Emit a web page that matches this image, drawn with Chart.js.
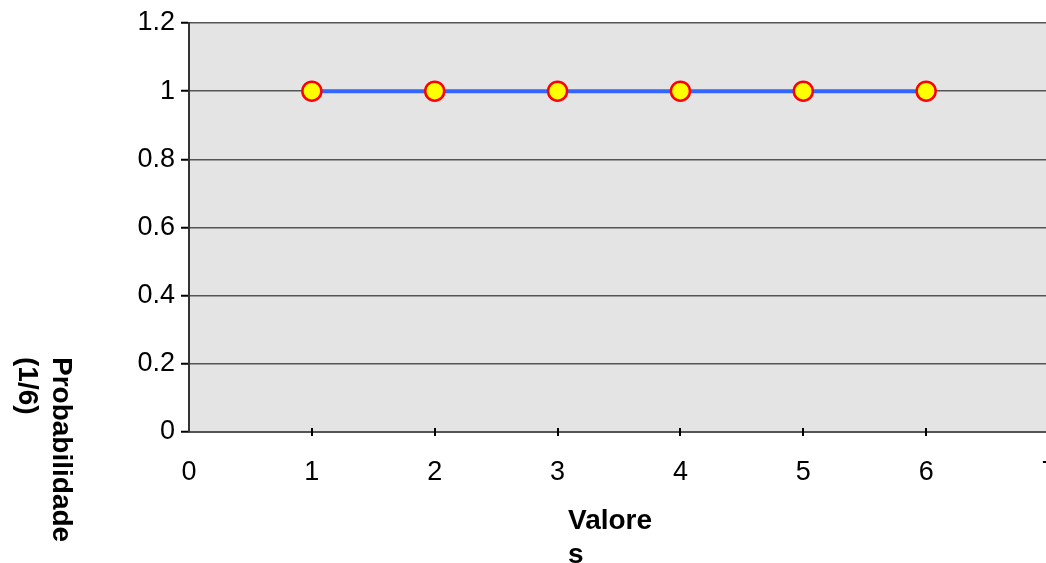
<!DOCTYPE html>
<html>
<head>
<meta charset="utf-8">
<script src="https://cdn.jsdelivr.net/npm/chart.js@4.4.1/dist/chart.umd.min.js"></script>
<style>
  html, body { margin: 0; padding: 0; background: #ffffff; overflow: hidden; }
  #wrap { width: 1046px; height: 563px; position: relative; overflow: hidden; }
</style>
</head>
<body>
<div id="wrap"><canvas id="chart" width="1061" height="563"></canvas></div>
<script>
// Valores do dado e a probabilidade de cada face (em unidades de 1/6)
const valores = [1, 2, 3, 4, 5, 6];
const probabilidade = [1, 1, 1, 1, 1, 1];
const xTicks = [0, 1, 2, 3, 4, 5, 6, 7];
const yTicks = [0, 0.2, 0.4, 0.6, 0.8, 1, 1.2];
const tituloX = ['Valore', 's'];
const tituloY = ['Probabilidade', '(1/6)'];

const FONT = '"Liberation Sans", Arial, sans-serif';

// Fundo cinza da área de plotagem
const plotBackground = {
  id: 'plotBackground',
  beforeDraw(chart) {
    const { ctx, chartArea: a } = chart;
    ctx.save();
    ctx.fillStyle = '#e4e4e4';
    ctx.fillRect(a.left, a.top, a.right - a.left, a.bottom - a.top);
    ctx.restore();
  }
};

// Marcas do eixo X cruzando a linha do eixo, e títulos dos eixos
const axisExtras = {
  id: 'axisExtras',
  afterDraw(chart) {
    const { ctx, chartArea: a } = chart;
    const xs = chart.scales.x;
    ctx.save();
    ctx.strokeStyle = '#000000';
    ctx.lineWidth = 2;
    xTicks.forEach(v => {
      if (v === xTicks[0]) return;
      const px = Math.round(xs.getPixelForValue(v));
      ctx.beginPath();
      ctx.moveTo(px, a.bottom - 4);
      ctx.lineTo(px, a.bottom + 4);
      ctx.stroke();
    });

    ctx.fillStyle = '#000000';
    ctx.font = 'bold 28px ' + FONT;
    ctx.textBaseline = 'alphabetic';
    ctx.textAlign = 'left';
    const startX = 568;
    tituloX.forEach((t, i) => ctx.fillText(t, startX, 529 + i * 34));

    ctx.translate(0, 357);
    ctx.rotate(Math.PI / 2);
    ctx.textBaseline = 'middle';
    tituloY.forEach((t, i) => ctx.fillText(t, 0, -61 + i * 34));
    ctx.restore();
  }
};

new Chart(document.getElementById('chart'), {
  type: 'scatter',
  data: {
    datasets: [{
      data: valores.map((v, i) => ({ x: v, y: probabilidade[i] })),
      showLine: true,
      borderColor: '#3366ff',
      borderWidth: 4,
      pointRadius: 9.5,
      pointHoverRadius: 9.5,
      pointBackgroundColor: '#ffff00',
      pointBorderColor: '#ff0000',
      pointBorderWidth: 2.5
    }]
  },
  options: {
    responsive: false,
    animation: false,
    events: [],
    layout: { padding: { top: 23, right: 1, bottom: 0, left: 0 } },
    plugins: { legend: { display: false }, tooltip: { enabled: false } },
    scales: {
      x: {
        type: 'linear',
        min: xTicks[0],
        max: xTicks[xTicks.length - 1],
        afterBuildTicks(s) { s.ticks = xTicks.map(v => ({ value: v })); },
        afterFit(s) { s.height = 131; s.paddingLeft = 0; s.paddingRight = 0; },
        grid: { display: true, drawOnChartArea: false, drawTicks: false },
        border: { display: true, color: '#555555', width: 2 },
        ticks: {
          padding: 24,
          color: '#000000',
          maxRotation: 0,
          autoSkip: false,
          font: { family: FONT, size: 27 }
        }
      },
      y: {
        type: 'linear',
        min: yTicks[0],
        max: yTicks[yTicks.length - 1],
        afterBuildTicks(s) { s.ticks = yTicks.map(v => ({ value: v })); },
        afterFit(s) { s.width = 189; s.paddingTop = 0; s.paddingBottom = 0; },
        grid: { color: '#555555', lineWidth: 1.5, tickLength: 8, tickColor: '#000000', tickWidth: 2 },
        border: { display: true, color: '#333333', width: 2 },
        ticks: {
          padding: 6,
          color: '#000000',
          font: { family: FONT, size: 27 },
          callback: v => String(Math.round(v * 10) / 10)
        }
      }
    }
  },
  plugins: [plotBackground, axisExtras]
});
</script>
</body>
</html>
